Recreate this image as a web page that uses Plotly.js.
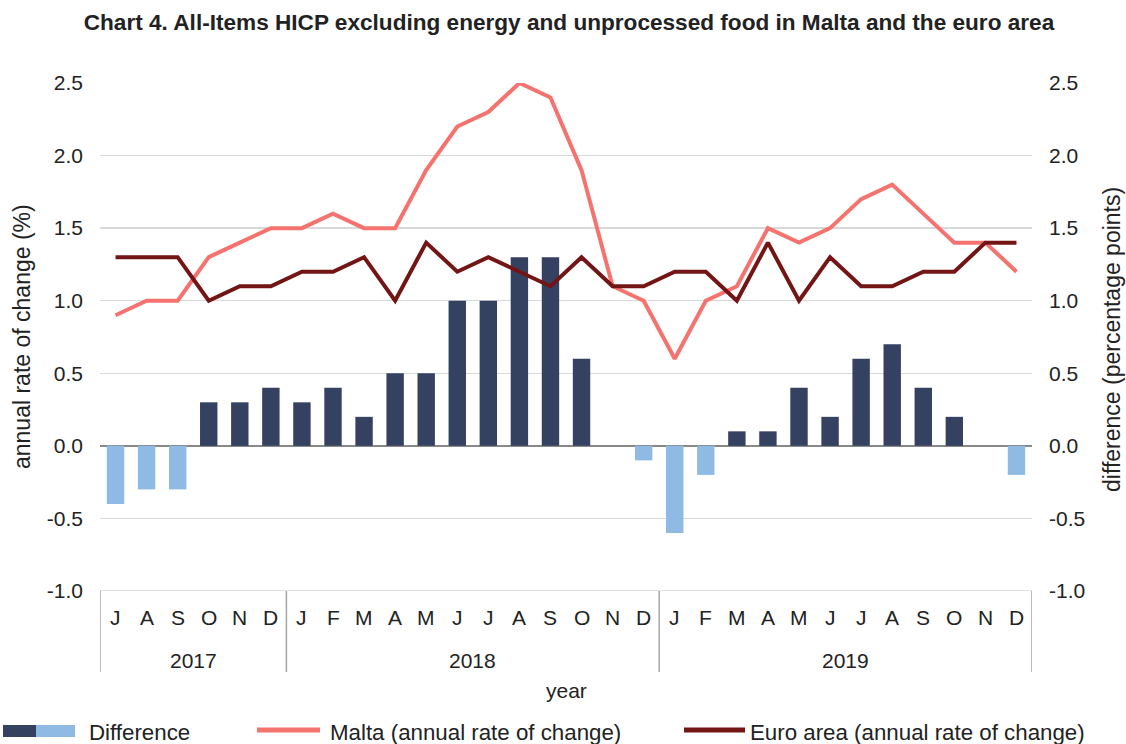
<!DOCTYPE html>
<html>
<head>
<meta charset="utf-8">
<script src="https://cdn.plot.ly/plotly-3.0.1.min.js"></script>
<style>html,body{margin:0;padding:0;background:#fff;}#chart{width:1126px;height:744px;}</style>
</head>
<body>
<div id="chart"></div>
<script>
// ---- data ----
var months = ["J","A","S","O","N","D",
  "J","F","M","A","M","J","J","A","S","O","N","D",
  "J","F","M","A","M","J","J","A","S","O","N","D"];
var years = ["2017","2018","2019"];
var yearMonthCounts = [6, 12, 12];
var malta = [0.9,1.0,1.0,1.3,1.4,1.5,
  1.5,1.6,1.5,1.5,1.9,2.2,2.3,2.5,2.4,1.9,1.1,1.0,
  0.6,1.0,1.1,1.5,1.4,1.5,1.7,1.8,1.6,1.4,1.4,1.2];
var euroArea = [1.3,1.3,1.3,1.0,1.1,1.1,
  1.2,1.2,1.3,1.0,1.4,1.2,1.3,1.2,1.1,1.3,1.1,1.1,
  1.2,1.2,1.0,1.4,1.0,1.3,1.1,1.1,1.2,1.2,1.4,1.4];
var difference = [-0.4,-0.3,-0.3,0.3,0.3,0.4,
  0.3,0.4,0.2,0.5,0.5,1.0,1.0,1.3,1.3,0.6,0.0,-0.1,
  -0.6,-0.2,0.1,0.1,0.4,0.2,0.6,0.7,0.4,0.2,0.0,-0.2];
var tickVals = [-1.0,-0.5,0.0,0.5,1.0,1.5,2.0,2.5];
var tickText = ["-1.0","-0.5","0.0","0.5","1.0","1.5","2.0","2.5"];
var seriesNames = ["Difference","Malta (annual rate of change)","Euro area (annual rate of change)"];

// ---- styles ----
var FONT = "Liberation Sans, Arial, sans-serif";
var TXT = "#222222";
var POS = "#344160", NEG = "#8ebae3";
var MALTA_C = "#f4736f", EURO_C = "#731515";

var xIdx = months.map(function(_, i){ return i; });
var barColors = difference.map(function(v){ return v < 0 ? NEG : POS; });

var traces = [
  {type:"bar", x:xIdx, y:difference, name:seriesNames[0], marker:{color:barColors}, width:0.56, yaxis:"y", hoverinfo:"skip", showlegend:false},
  {type:"scatter", mode:"lines", x:xIdx, y:malta, name:seriesNames[1], line:{color:MALTA_C, width:4}, yaxis:"y2", hoverinfo:"skip", showlegend:false},
  {type:"scatter", mode:"lines", x:xIdx, y:euroArea, name:seriesNames[2], line:{color:EURO_C, width:4}, yaxis:"y2", hoverinfo:"skip", showlegend:false}
];

var L = 100, R = 1032, T = 83, B = 591;
var W = R - L, H = B - T;
function px(x){ return (x - L) / W; }
function py(y){ return (B - y) / H; }

var annotations = [];
var shapes = [];
// month labels
months.forEach(function(m, i){
  annotations.push({x:i, xref:"x", y:py(617), yref:"paper", text:m, showarrow:false, xanchor:"center", yanchor:"middle", font:{family:FONT, size:21, color:TXT}});
});
// year labels & separators
var start = 0;
shapes.push({type:"line", xref:"x", yref:"paper", x0:-0.5, x1:-0.5, y0:0, y1:py(672), line:{color:"#a6a6a6", width:1.5}});
years.forEach(function(yr, k){
  var n = yearMonthCounts[k];
  annotations.push({x:start + (n - 1) / 2, xref:"x", y:py(660), yref:"paper", text:yr, showarrow:false, xanchor:"center", yanchor:"middle", font:{family:FONT, size:21, color:TXT}});
  start += n;
  shapes.push({type:"line", xref:"x", yref:"paper", x0:start - 0.5, x1:start - 0.5, y0:0, y1:py(672), line:{color:"#a6a6a6", width:1.5}});
});
// bottom gridline at -1.0
shapes.push({type:"line", xref:"paper", yref:"y", x0:0, x1:1, y0:-1, y1:-1, line:{color:"#d9d9d9", width:1.5}, layer:"below"});
// x-axis title
annotations.push({x:0.5, xref:"paper", y:py(690), yref:"paper", text:"year", showarrow:false, xanchor:"center", yanchor:"middle", font:{family:FONT, size:21, color:TXT}});
// y-axis titles
annotations.push({x:px(22), xref:"paper", y:py(337), yref:"paper", text:"annual rate of change (%)", textangle:-90, showarrow:false, xanchor:"center", yanchor:"middle", font:{family:FONT, size:23, color:TXT}});
annotations.push({x:px(1112), xref:"paper", y:py(340), yref:"paper", text:"difference (percentage points)", textangle:-90, showarrow:false, xanchor:"center", yanchor:"middle", font:{family:FONT, size:23, color:TXT}});
// legend
shapes.push({type:"rect", xref:"paper", yref:"paper", x0:px(3), x1:px(36), y0:py(725), y1:py(737), fillcolor:POS, line:{width:0}});
shapes.push({type:"rect", xref:"paper", yref:"paper", x0:px(36), x1:px(75), y0:py(725), y1:py(737), fillcolor:NEG, line:{width:0}});
shapes.push({type:"line", xref:"paper", yref:"paper", x0:px(257), x1:px(320), y0:py(730), y1:py(730), line:{color:MALTA_C, width:5}});
shapes.push({type:"line", xref:"paper", yref:"paper", x0:px(684), x1:px(745), y0:py(730), y1:py(730), line:{color:EURO_C, width:5}});
annotations.push({x:px(87), xref:"paper", y:py(732), yref:"paper", text:seriesNames[0], showarrow:false, xanchor:"left", yanchor:"middle", font:{family:FONT, size:22.3, color:TXT}});
annotations.push({x:px(328), xref:"paper", y:py(732), yref:"paper", text:seriesNames[1], showarrow:false, xanchor:"left", yanchor:"middle", font:{family:FONT, size:22.3, color:TXT}});
annotations.push({x:px(748), xref:"paper", y:py(732), yref:"paper", text:seriesNames[2], showarrow:false, xanchor:"left", yanchor:"middle", font:{family:FONT, size:22.3, color:TXT}});

var yCommon = {range:[-1, 2.5], tickvals:tickVals, ticktext:tickText, tickfont:{family:FONT, size:21, color:TXT}, ticks:"", fixedrange:true, showline:false};

var layout = {
  width:1126, height:744,
  margin:{l:L, r:1126 - R, t:T, b:744 - B, pad:0},
  paper_bgcolor:"#ffffff", plot_bgcolor:"#ffffff",
  title:{text:"<b>Chart 4. All-Items HICP excluding energy and unprocessed food in Malta and the euro area</b>", x:569/1126, xref:"container", xanchor:"center", y:1 - 22/744, yref:"container", yanchor:"middle", font:{family:FONT, size:22.6, color:TXT}},
  showlegend:false,
  bargap:0.44,
  xaxis:{range:[-0.5, 29.5], showticklabels:false, showgrid:false, zeroline:false, ticks:"", fixedrange:true, showline:false},
  yaxis:Object.assign({}, yCommon, {side:"left", showgrid:true, gridcolor:"#d9d9d9", gridwidth:1.5, zeroline:true, zerolinecolor:"#898989", zerolinewidth:2, ticklabelstandoff:16}),
  yaxis2:Object.assign({}, yCommon, {side:"right", overlaying:"y", showgrid:false, zeroline:false, ticklabelstandoff:16}),
  shapes:shapes,
  annotations:annotations
};

Plotly.newPlot("chart", traces, layout, {displayModeBar:false, staticPlot:true});
</script>
</body>
</html>
